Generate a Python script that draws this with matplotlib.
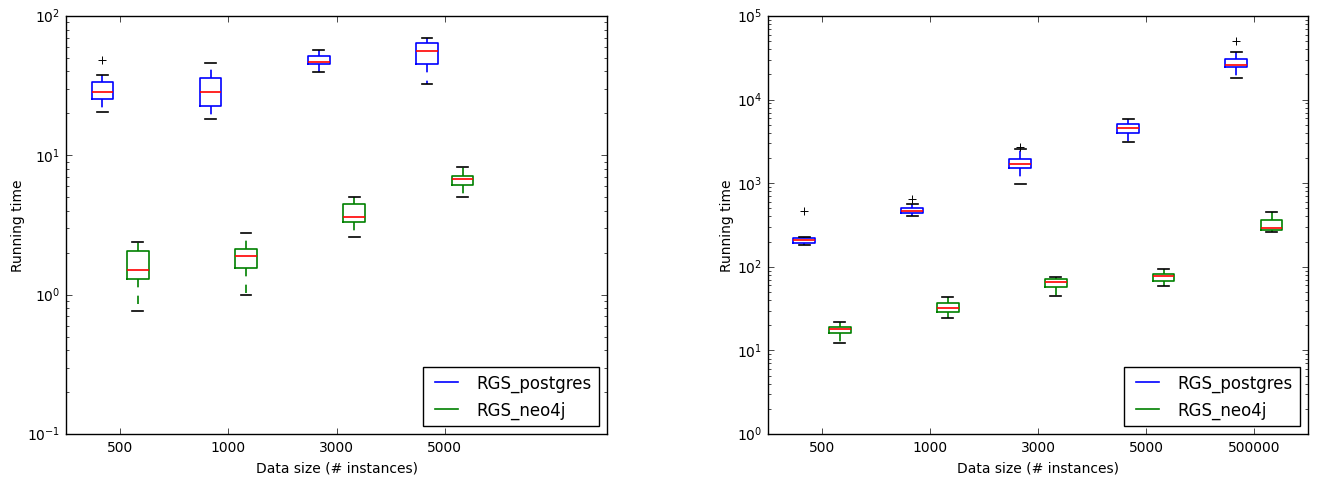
import matplotlib
matplotlib.use('Agg')
import matplotlib.pyplot as plt
from matplotlib.lines import Line2D

plt.style.use('classic')
plt.rcParams['mathtext.fontset'] = 'dejavusans'
plt.rcParams['font.family'] = 'DejaVu Sans'

# x categories
sizes_left = ['500', '1000', '3000', '5000']
sizes_right = ['500', '1000', '3000', '5000', '500000']

# left panel, RGS_postgres
pg_l_lo = [20.4, 18.2, 39.5, 32.7]
pg_l_q1 = [25.3, 22.7, 45.5, 45.5]
pg_l_med = [28.4, 28.4, 47.1, 56.4]
pg_l_q3 = [33.8, 36.1, 52.0, 63.8]
pg_l_hi = [37.8, 46.3, 57.4, 69.3]
pg_l_fl = [[48.2], [], [], []]

# left panel, RGS_neo4j
nj_l_lo = [0.76, 0.99, 2.60, 5.03]
nj_l_q1 = [1.30, 1.56, 3.31, 6.13]
nj_l_med = [1.50, 1.89, 3.59, 6.73]
nj_l_q3 = [2.06, 2.12, 4.50, 7.15]
nj_l_hi = [2.38, 2.77, 5.03, 8.20]
nj_l_fl = [[], [], [], []]

# right panel, RGS_postgres
pg_r_lo = [181, 405, 978, 3085, 17980]
pg_r_q1 = [194, 440, 1507, 4018, 24330]
pg_r_med = [207, 469, 1711, 4534, 26170]
pg_r_q3 = [223, 501, 1963, 5150, 30340]
pg_r_hi = [227, 564, 2566, 5810, 37090]
pg_r_fl = [[465], [647], [2733], [], [50230]]

# right panel, RGS_neo4j
nj_r_lo = [12.2, 24.2, 44.4, 59.4, 263]
nj_r_q1 = [16.0, 28.6, 57.3, 68.2, 276]
nj_r_med = [18.0, 32.4, 66.4, 77.0, 291]
nj_r_q3 = [19.2, 37.2, 72.1, 82.7, 366]
nj_r_hi = [22.0, 43.2, 76.2, 93.3, 452]
nj_r_fl = [[], [], [], [], []]


def make_stats(lo, q1, med, q3, hi, fl):
    return [dict(whislo=a, q1=b, med=c, q3=d, whishi=e, fliers=f)
            for a, b, c, d, e, f in zip(lo, q1, med, q3, hi, fl)]


def draw_boxes(ax, stats, positions, color):
    ax.bxp(stats, positions=positions, widths=0.2, manage_ticks=False,
           boxprops=dict(color=color, linewidth=1.2),
           whiskerprops=dict(color=color, linestyle='--', linewidth=1.2),
           capprops=dict(color='black', linewidth=1.2),
           medianprops=dict(color='red', linewidth=1.2),
           flierprops=dict(marker='+', markeredgecolor='black',
                           markersize=6, markeredgewidth=0.7,
                           linestyle='none'))


def panel(ax, labels, pg_stats, nj_stats, ylim):
    idx = list(range(1, len(labels) + 1))
    draw_boxes(ax, pg_stats, [i - 0.164 for i in idx], 'blue')
    draw_boxes(ax, nj_stats, [i + 0.164 for i in idx], 'green')
    ax.set_yscale('log')
    ax.set_ylim(*ylim)
    ax.set_xlim(0.5, 5.5)
    ax.set_xticks(idx)
    ax.set_xticklabels(labels)
    ax.tick_params(labelsize=10)
    ax.set_xlabel('Data size (# instances)', fontsize=10)
    ax.set_ylabel('Running time', fontsize=10, labelpad=2)
    handles = [Line2D([], [], color='blue', linewidth=1.2),
               Line2D([], [], color='green', linewidth=1.2)]
    leg = ax.legend(handles, ['RGS_postgres', 'RGS_neo4j'],
                    loc='lower right', fontsize=12, fancybox=False)
    leg.get_frame().set_edgecolor('black')


fig = plt.figure(figsize=(13.18, 4.81), dpi=100, facecolor='white')
ax1 = fig.add_axes([0.0501, 0.0956, 0.4105, 0.869])
ax2 = fig.add_axes([0.5827, 0.0956, 0.4097, 0.869])

panel(ax1, sizes_left,
      make_stats(pg_l_lo, pg_l_q1, pg_l_med, pg_l_q3, pg_l_hi, pg_l_fl),
      make_stats(nj_l_lo, nj_l_q1, nj_l_med, nj_l_q3, nj_l_hi, nj_l_fl),
      (0.1, 100))
panel(ax2, sizes_right,
      make_stats(pg_r_lo, pg_r_q1, pg_r_med, pg_r_q3, pg_r_hi, pg_r_fl),
      make_stats(nj_r_lo, nj_r_q1, nj_r_med, nj_r_q3, nj_r_hi, nj_r_fl),
      (1, 1e5))

fig.savefig('out.png', dpi=100, facecolor='white')
